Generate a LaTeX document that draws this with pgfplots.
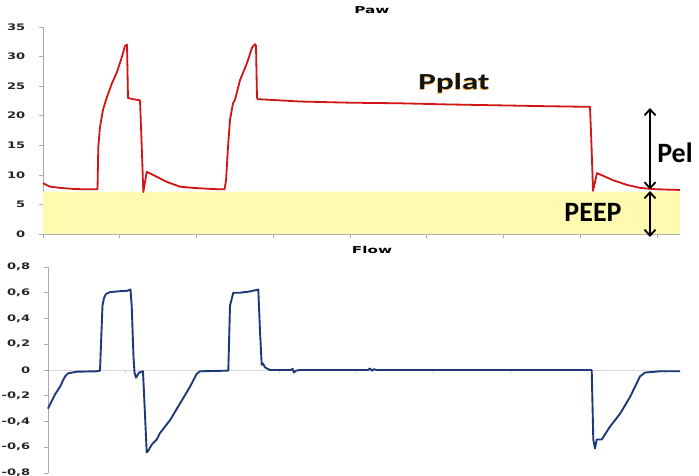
\documentclass[border=0pt]{standalone}
\usepackage{fontspec}
\setmainfont{Carlito}
\newfontfamily\tickfont{DejaVu Sans}
\usepackage{pgfplots}
\pgfplotsset{compat=1.18}
\usetikzlibrary{arrows.meta}

\definecolor{pawred}{RGB}{210,20,20}
\definecolor{flowblue}{RGB}{31,56,120}
\definecolor{peepyellow}{RGB}{255,250,175}
\definecolor{axisgray}{RGB}{170,170,170}

\pgfplotsset{
  panel/.style={
    scale only axis,
    clip=false,
    tick align=outside,
    major tick length=4pt,
    axis line style={axisgray, line width=0.8pt},
    tick style={axisgray, line width=0.6pt},
    xtick={43,119.75,196.5,273.25,350,426.75,503.5,580.25,657},
    xticklabels={},
    /pgf/number format/assume math mode=true,
    yticklabel style={font=\tickfont\bfseries\fontsize{9}{10}\selectfont,
      text=black!85, xscale=1.45, xshift=-6pt},
  },
}

\begin{document}
\begin{tikzpicture}[x=1pt,y=1pt]
\useasboundingbox (0,0) rectangle (699,475);

% Paw
\begin{axis}[panel,
  at={(43pt,241pt)}, anchor=south west,
  width=637pt, height=207pt,
  xmin=43, xmax=680, ymin=0, ymax=35,
  axis y line*=left, axis x line*=bottom,
  ytick={0,5,...,35},
]
\addplot[fill=peepyellow, draw=none] coordinates {
  (43,0) (680,0) (680,7.15) (43,7.15)} \closedcycle;
\addplot[pawred, line width=1.8pt, line join=round] coordinates {
  (43,8.6) (50,8.0) (60,7.8) (75,7.6) (90,7.55) (97.5,7.55)
  (98.3,14.7) (100,18.1) (103,21) (107,23.2) (112,25.5) (117,27.4)
  (122,30) (125,31.8) (127,32) (128,23) (133,22.8) (140,22.6)
  (141.7,15) (143.3,7.1) (146.7,10.5) (153,10.0) (160,9.4) (167,8.8)
  (180,8.0) (193,7.8) (213,7.6) (224.5,7.55)
  (226,9) (228,14.7) (230,19.3) (233,22.1) (235,22.7) (240,26)
  (247,28.9) (252,31.5) (255,32.1) (256,31.8) (257,23) (258,22.8)
  (300,22.4) (350,22.2) (400,22.1) (450,21.9) (500,21.75) (550,21.6)
  (590,21.5) (591.5,15) (593,7.3) (597,10.3) (605,9.7) (613,9.1)
  (627,8.3) (640,7.8) (653,7.6) (668,7.5) (680,7.45)
};
\end{axis}

% Flow
\begin{axis}[panel,
  at={(48pt,2pt)}, anchor=south west,
  width=632pt, height=206pt,
  xmin=48, xmax=680, ymin=-0.8, ymax=0.8,
  axis y line*=left, axis x line*=middle,
  x axis line style={black!15, line width=1pt},
  ytick={-0.8,-0.6,-0.4,-0.2,0,0.2,0.4,0.6,0.8},
  yticklabels={{-0,8},{-0,6},{-0,4},{-0,2},0,{0,2},{0,4},{0,6},{0,8}},
  xtick={48,125,202,279,356,433,510,587,664},
  x tick style={black!12},
]
\addplot[flowblue, line width=1.9pt, line join=round] coordinates {
  (48,-0.30) (55,-0.19) (60,-0.13) (65,-0.05) (68,-0.026) (77,-0.013)
  (97,-0.01) (100,-0.005) (101,0.2) (102.5,0.5) (104,0.56) (106,0.59)
  (110,0.605) (120,0.612) (127,0.615) (130.5,0.625) (131.7,0.5)
  (133.5,0.1) (134.5,-0.02) (136,-0.06) (139,-0.02) (143,-0.01)
  (145,-0.35) (146.7,-0.64) (148,-0.63) (151.7,-0.58) (156.7,-0.54)
  (160,-0.49) (170,-0.39) (180,-0.26) (190,-0.13) (196.7,-0.03)
  (200,-0.01) (228.3,-0.005) (230,0.5) (233.3,0.6) (240,0.6)
  (250,0.61) (258.3,0.625) (260,0.3) (261.7,0.04) (263,0.05)
  (265,0.02) (270,0) (291,0) (292.5,0.01) (294,-0.02) (296,-0.005)
  (300,0) (368,0) (370,0.012) (372,-0.006) (374,0.006) (377,0)
  (591.7,0) (593.3,-0.54) (595,-0.61) (596.7,-0.54) (601.7,-0.54)
  (610,-0.44) (620,-0.34) (630,-0.21) (640,-0.05) (645,-0.02)
  (660,-0.01) (680,-0.01)
};
\end{axis}

% titles
\node[font=\tickfont\bfseries\fontsize{9.5}{10}\selectfont, xscale=1.6]
  at (372,465) {Paw};
\node[font=\tickfont\bfseries\fontsize{9.5}{10}\selectfont, xscale=1.6]
  at (372,225) {Flow};

% annotations
\node[font=\bfseries\fontsize{23}{24}\selectfont, xscale=1.44,
  anchor=base, text={rgb,255:red,245;green,170;blue,60}] at (453.4,384.6) {Pplat};
\node[font=\bfseries\fontsize{23}{24}\selectfont, xscale=1.44,
  anchor=base, text=black!92] at (454,385) {Pplat};
\node[font=\bfseries\fontsize{28}{30}\selectfont, anchor=base] at (675,312.3) {Pel};
\node[font=\bfseries\fontsize{28}{30}\selectfont, anchor=base] at (593,253.3) {PEEP};
\tikzset{barb/.tip={Straight Barb[length=6pt,width=11pt,line width=1.8pt]}}
\draw[line width=2pt, barb-barb] (650,367) -- (650,285.5);
\draw[line width=2pt, barb-barb] (650,284) -- (650,238);
\end{tikzpicture}
\end{document}
